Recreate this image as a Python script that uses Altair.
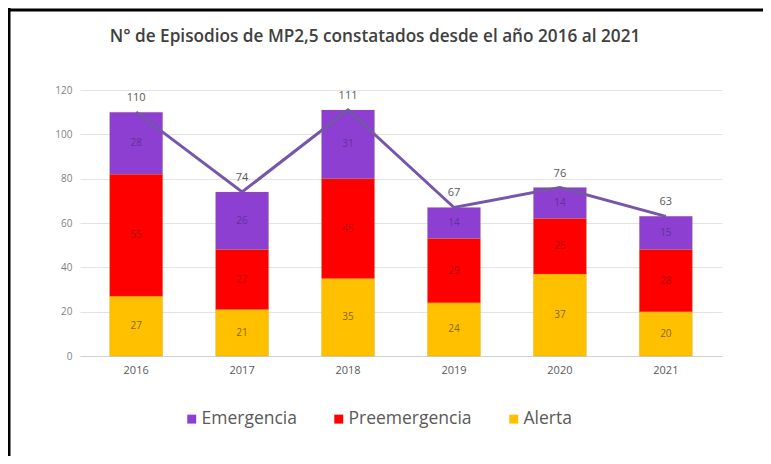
import altair as alt
import pandas as pd

years = ["2016", "2017", "2018", "2019", "2020", "2021"]
alerta = [27, 21, 35, 24, 37, 20]
preemergencia = [55, 27, 45, 29, 25, 28]
emergencia = [28, 26, 31, 14, 14, 15]
totals = [110, 74, 111, 67, 76, 63]

categories = ["Emergencia", "Preemergencia", "Alerta"]
colors = ["#8c3fd1", "#ff0000", "#ffc000"]
label_colors = {"Emergencia": "#5a2a8a", "Preemergencia": "#9a1010", "Alerta": "#5a4a20"}
stack_order = {"Alerta": 0, "Preemergencia": 1, "Emergencia": 2}
title_text = "N° de Episodios de MP2,5 constatados desde el año 2016 al 2021"

rows = []
for i, y in enumerate(years):
    for cat, vals in (("Alerta", alerta), ("Preemergencia", preemergencia), ("Emergencia", emergencia)):
        rows.append({"year": y, "category": cat, "value": vals[i],
                     "ord": stack_order[cat], "tcolor": label_colors[cat]})
df = pd.DataFrame(rows)
tdf = pd.DataFrame({"year": years, "total": totals})

FONT = "Open Sans"

x_enc = alt.X("year:N", title=None,
              scale=alt.Scale(paddingInner=0.5, paddingOuter=0.28),
              axis=alt.Axis(labelAngle=0, ticks=False, domainColor="#d0d0d0",
                            labelColor="#595959", labelFontSize=11, labelFont=FONT,
                            labelPadding=8))
y_scale = alt.Scale(domain=[0, 120])

bars = alt.Chart(df).mark_bar(stroke="#b08a00", strokeWidth=0.5, strokeOpacity=0.4).encode(
    x=x_enc,
    y=alt.Y("value:Q", stack="zero", scale=y_scale, title=None,
            axis=alt.Axis(values=[0, 20, 40, 60, 80, 100, 120], domain=False, ticks=False,
                          gridColor="#e3e3e3", labelColor="#7f7f7f", labelFontSize=10,
                          labelFont=FONT, labelPadding=8)),
    color=alt.Color("category:N", scale=alt.Scale(domain=categories, range=colors),
                    legend=alt.Legend(title=None, orient="none", legendX=103, legendY=320,
                                      direction="horizontal", symbolType="square",
                                      symbolSize=80, symbolStrokeWidth=0,
                                      labelFontSize=17.5, labelFont=FONT, labelColor="#595959",
                                      columnPadding=33, labelOffset=1)),
    order=alt.Order("ord:Q"),
)

seg = alt.Chart(df).transform_stack(
    stack="value", as_=["y0", "y1"], groupby=["year"], sort=[alt.SortField("ord")]
).transform_calculate(mid="(datum.y0 + datum.y1) / 2").mark_text(
    fontSize=10, font=FONT, opacity=0.75
).encode(
    x="year:N",
    y=alt.Y("mid:Q", scale=y_scale),
    text="value:Q",
    color=alt.Color("tcolor:N", scale=None),
)

line = alt.Chart(tdf).mark_line(color="#7656a8", strokeWidth=3).encode(
    x="year:N", y=alt.Y("total:Q", scale=y_scale)
)
tlabels = alt.Chart(tdf).mark_text(dy=-14, fontSize=11, font=FONT, color="#595959").encode(
    x="year:N", y=alt.Y("total:Q", scale=y_scale), text="total:Q"
)

frame = pd.DataFrame({"title": [title_text]})
title = alt.Chart(frame).mark_text(
    font=FONT, fontSize=17.2, fontWeight=600, color="#404040", align="center", baseline="middle"
).encode(x=alt.value(295), y=alt.value(-53), text="title:N")
top_border = alt.Chart(frame).mark_rule(color="black", strokeWidth=3).encode(
    x=alt.value(-72), x2=alt.value(683), y=alt.value(-80)
)
left_border = alt.Chart(frame).mark_rule(color="black", strokeWidth=3).encode(
    x=alt.value(-71), y=alt.value(-82), y2=alt.value(370)
)

chart = alt.layer(bars, seg, line, tlabels, title, top_border, left_border).properties(
    width=642, height=266,
    autosize=alt.AutoSizeParams(type="none"),
    padding={"left": 72, "top": 82, "right": 41, "bottom": 100},
).configure_view(stroke=None)

chart.save("out.html", embed_options={"renderer": "svg", "actions": False})
